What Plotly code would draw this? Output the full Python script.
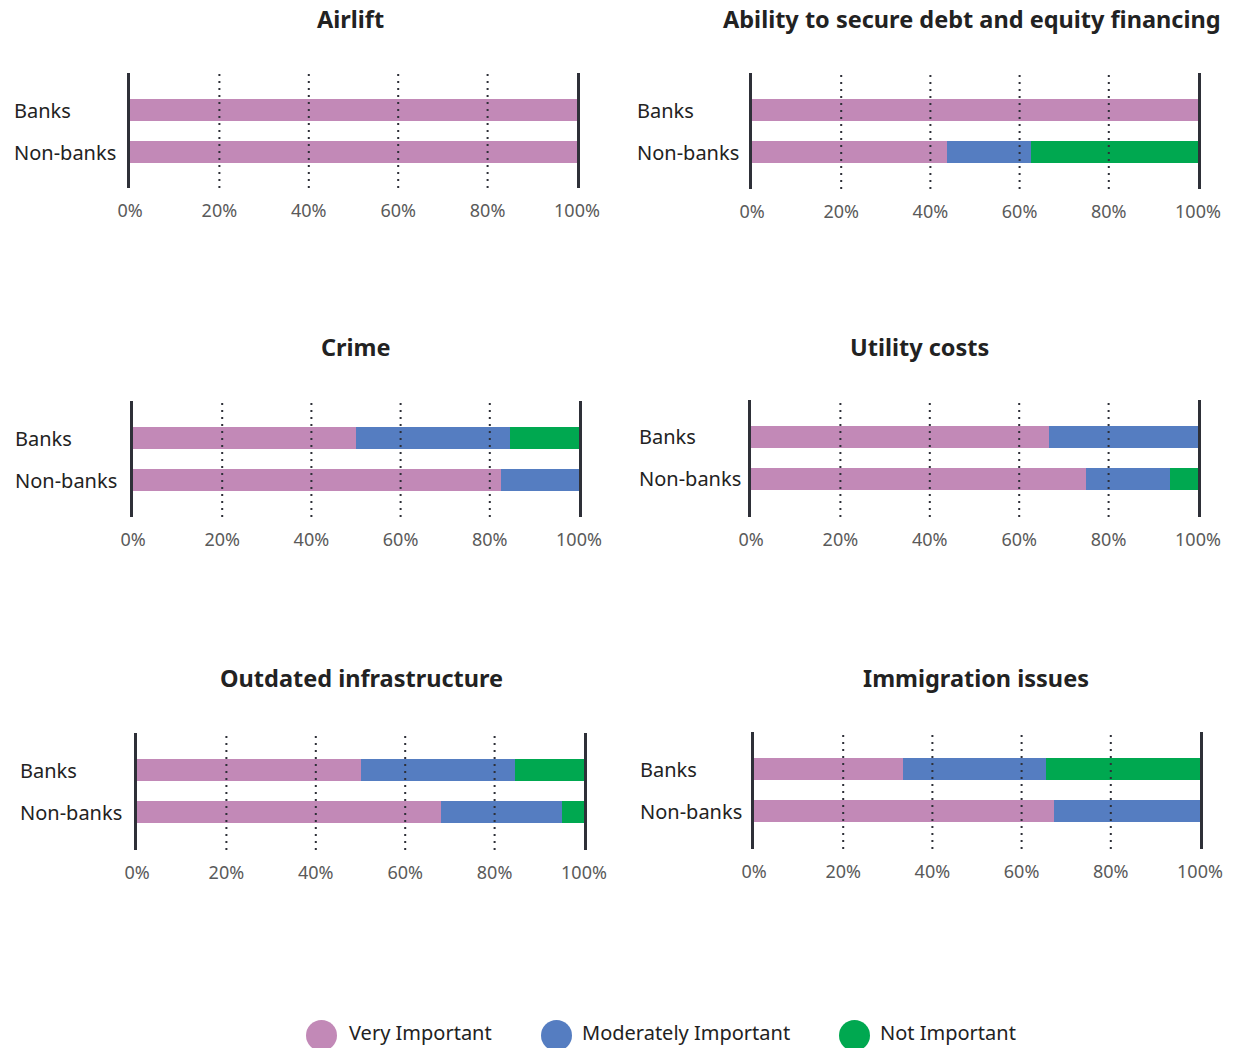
import plotly.graph_objects as go

# ---------------- data ----------------
categories = ["Banks", "Non-banks"]
panel_titles = ["Airlift", "Ability to secure debt and equity financing",
                "Crime", "Utility costs",
                "Outdated infrastructure", "Immigration issues"]
series_names = ["Very Important", "Moderately Important", "Not Important"]
# values per panel: [Banks, Non-banks] in %
very_important = [[100, 100], [100, 43.75], [50, 82.5], [66.7, 75], [50, 68], [33.3, 67.3]]
moderately_important = [[0, 0], [0, 18.75], [34.5, 17.5], [33.3, 18.75], [34.5, 27], [32.2, 32.7]]
not_important = [[0, 0], [0, 37.5], [15.5, 0], [0, 6.25], [15.5, 5], [34.5, 0]]
tick_values = [0, 20, 40, 60, 80, 100]
tick_labels = ["0%", "20%", "40%", "60%", "80%", "100%"]

# ---------------- style ----------------
W, H = 1238, 1048
colors = ["#C289B7", "#557DC1", "#00A850"]
dark = "#2E3038"
text_col = "#222222"
FONT = "Noto Sans"

# pixel layout of each panel: (x_left, x_right, y_top, y_bottom)
panel_px = [(130, 577, 73, 188), (752, 1198, 73, 189),
            (133, 579, 401, 517), (751, 1198, 400, 517),
            (137, 584, 733, 850), (754, 1200, 732, 849)]
title_px = [(350, 19), (972, 19), (356, 347), (920, 347), (361, 678), (976, 678)]
label_x_px = [12, 635, 13, 637, 18, 638]

def px_x(x):
    return x / W

def px_y(y):
    return 1 - y / H

fig = go.Figure()
series_values = [very_important, moderately_important, not_important]
layout = dict(width=W, height=H, margin=dict(l=0, r=0, t=0, b=0, autoexpand=False),
              paper_bgcolor="white", plot_bgcolor="white",
              barmode="stack", showlegend=False,
              font=dict(family=FONT, color=text_col))
shapes = []
annotations = []

for p in range(6):
    sfx = "" if p == 0 else str(p + 1)
    xa, ya = "x" + sfx, "y" + sfx
    for s in range(3):
        fig.add_trace(go.Bar(
            y=categories, x=series_values[s][p], orientation="h",
            marker=dict(color=colors[s], line=dict(width=0)),
            width=0.52, name=series_names[s], xaxis=xa, yaxis=ya,
            hoverinfo="x+y+name"))
    xl, xr, yt, yb = panel_px[p]
    span = yb - yt
    top = -37 / 42
    bottom = top + span / 42
    layout["xaxis" + sfx] = dict(
        domain=[px_x(xl), px_x(xr)], anchor=ya, range=[0, 100],
        tickvals=tick_values, ticktext=tick_labels,
        showgrid=False, zeroline=False, showline=False,
        ticks="outside", ticklen=6, tickcolor="rgba(0,0,0,0)",
        tickfont=dict(size=18, color="#5A5A5A", family=FONT),
        automargin=False, fixedrange=True)
    layout["yaxis" + sfx] = dict(
        domain=[px_y(yb), px_y(yt)], anchor=xa,
        type="category", categoryarray=categories,
        range=[bottom, top], showticklabels=False,
        showgrid=False, zeroline=False,
        showline=True, mirror=True, linewidth=3, linecolor=dark,
        layer="above traces", automargin=False, fixedrange=True)
    for tv in tick_values[1:-1]:
        shapes.append(dict(type="line", xref=xa, yref=ya + " domain",
                           x0=tv, x1=tv, y0=0, y1=1, layer="above",
                           line=dict(color=dark, width=2, dash="2px,5px")))
    for c in categories:
        annotations.append(dict(text=c, xref="paper", yref=ya, x=px_x(label_x_px[p]),
                                y=c, xanchor="left", yanchor="middle", showarrow=False,
                                font=dict(size=20, color=text_col, family=FONT)))
    tx, ty = title_px[p]
    annotations.append(dict(text="<b>" + panel_titles[p] + "</b>", xref="paper", yref="paper",
                            x=px_x(tx), y=px_y(ty), xanchor="center", yanchor="middle",
                            showarrow=False, font=dict(size=23.5, color=text_col, family=FONT)))

# legend drawn with circles + labels
legend_circle_cx = [321.5, 556.5, 854.5]
legend_text_x = [348, 581, 879]
legend_cy = 1035.5
legend_text_bottom = 1047
r = 15.5
for s in range(3):
    cx = legend_circle_cx[s]
    shapes.append(dict(type="circle", xref="paper", yref="paper",
                       x0=px_x(cx - r), x1=px_x(cx + r), y0=px_y(legend_cy + r), y1=px_y(legend_cy - r),
                       fillcolor=colors[s], line=dict(width=0)))
    annotations.append(dict(text=series_names[s], xref="paper", yref="paper",
                            x=px_x(legend_text_x[s]), y=px_y(legend_text_bottom), xanchor="left",
                            yanchor="bottom", showarrow=False, borderpad=0,
                            font=dict(size=20, color=text_col, family=FONT)))

layout["shapes"] = shapes
layout["annotations"] = annotations
fig.update_layout(**layout)
fig.write_html("out.html")
